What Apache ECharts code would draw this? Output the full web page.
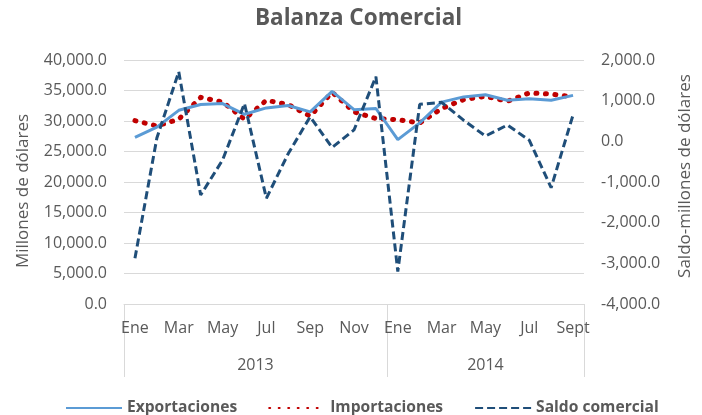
<!DOCTYPE html>
<html>
<head>
<meta charset="utf-8">
<script src="https://cdn.jsdelivr.net/npm/echarts@6/dist/echarts.min.js"></script>
<style>
html,body{margin:0;padding:0;background:#fff;}
#chart{width:702px;height:415px;}
</style>
</head>
<body>
<div id="chart"></div>
<script>
var months = ['Ene','Feb','Mar','Abr','May','Jun','Jul','Ago','Sep','Oct','Nov','Dic','Ene','Feb','Mar','Abr','May','Jun','Jul','Ago','Sept'];
var years = ['2013','2014'];
var yearStart = [0, 12];
var yearEnd = [12, 21];
var exportaciones = [27300, 29000, 31750, 32700, 32850, 31100, 32150, 32550, 31500, 34850, 31850, 32050, 26950, 29700, 33100, 33950, 34300, 33400, 33650, 33400, 34200];
var importaciones = [30060, 29190, 30280, 33880, 33110, 30300, 33400, 32680, 30800, 34700, 31500, 30400, 30220, 29680, 32050, 33500, 34050, 33220, 34600, 34420, 33950];
var saldo = [-2875, 80, 1710, -1320, -460, 930, -1400, -300, 605, -150, 280, 1590, -3200, 910, 960, 520, 130, 400, 30, -1140, 650];

function fmt(v){
  var neg = v < 0; v = Math.abs(v);
  var s = Math.round(v).toString().replace(/\B(?=(\d{3})+(?!\d))/g, ',');
  return (neg ? '-' : '') + s + '.0';
}
var FONT = 'Open Sans';
var GREY = '#595959';
var LINE = '#d9d9d9';

var chart = echarts.init(document.getElementById('chart'));
chart.setOption({
  animation: false,
  textStyle: {fontFamily: FONT},
  title: {
    text: 'Balanza Comercial',
    left: 250, top: 2,
    textStyle: {fontFamily: FONT, fontWeight: 'bold', fontSize: 22.5, color: GREY}
  },
  legend: {
    left: 60, top: 395,
    itemWidth: 56, itemHeight: 14, itemGap: 31,
    itemStyle: {opacity: 0},
    textStyle: {fontFamily: FONT, fontWeight: 'bold', fontSize: 15.6, color: GREY},
    data: ['Exportaciones', 'Importaciones', 'Saldo comercial']
  },
  grid: {left: 124, right: 109, top: 60, bottom: 111, containLabel: false},
  xAxis: [{
    type: 'category',
    data: months,
    boundaryGap: true,
    axisLine: {show: true, onZero: false, lineStyle: {color: LINE, width: 1}},
    axisTick: {show: false},
    axisLabel: {interval: 1, margin: 16, fontFamily: FONT, fontSize: 16, color: GREY}
  }, {
    type: 'value',
    position: 'bottom',
    min: 0, max: 21,
    axisLine: {show: false, onZero: false},
    splitLine: {show: false},
    axisTick: {show: true, customValues: [yearStart[0], yearStart[1], yearEnd[1]], length: 73, lineStyle: {color: LINE, width: 1}},
    axisLabel: {
      customValues: [(yearStart[0] + yearEnd[0]) / 2, (yearStart[1] + yearEnd[1]) / 2],
      margin: 53, fontFamily: FONT, fontSize: 16, color: GREY,
      formatter: function(v){ return v < yearEnd[0] ? years[0] : years[1]; }
    }
  }],
  yAxis: [{
    type: 'value',
    min: 0, max: 40000, interval: 5000,
    name: 'Millones de dólares',
    nameLocation: 'middle', nameGap: 92,
    nameTextStyle: {fontFamily: FONT, fontSize: 17, color: GREY, padding: [0, 18, 0, 0]},
    axisLine: {show: false}, axisTick: {show: false},
    splitLine: {show: true, lineStyle: {color: LINE, width: 1}},
    axisLabel: {margin: 17, fontFamily: FONT, fontSize: 16, color: GREY, formatter: fmt}
  }, {
    type: 'value',
    min: -4000, max: 2000, interval: 1000,
    name: 'Saldo-millones de dólares',
    nameLocation: 'middle', nameGap: 93,
    nameTextStyle: {fontFamily: FONT, fontSize: 17, color: GREY, padding: [0, 0, 0, 12]},
    axisLine: {show: false}, axisTick: {show: false},
    splitLine: {show: false},
    axisLabel: {margin: 17, fontFamily: FONT, fontSize: 16, color: GREY, formatter: fmt}
  }],
  series: [{
    name: 'Exportaciones', type: 'line', xAxisIndex: 0, yAxisIndex: 0,
    data: exportaciones, symbol: 'none', showSymbol: false,
    lineStyle: {color: '#5B9BD5', width: 3},
    itemStyle: {color: '#5B9BD5'}, z: 3
  }, {
    name: 'Importaciones', type: 'line', xAxisIndex: 0, yAxisIndex: 0,
    data: importaciones, symbol: 'none', showSymbol: false,
    lineStyle: {color: '#C00000', width: 5, type: [1, 8.5], cap: 'round', join: 'round'},
    itemStyle: {color: '#C00000'}, z: 2
  }, {
    name: 'Saldo comercial', type: 'line', xAxisIndex: 0, yAxisIndex: 1,
    data: saldo, symbol: 'none', showSymbol: false,
    lineStyle: {color: '#1F4E79', width: 3, type: [8, 4]},
    itemStyle: {color: '#1F4E79'}, z: 4
  }]
});
</script>
</body>
</html>
